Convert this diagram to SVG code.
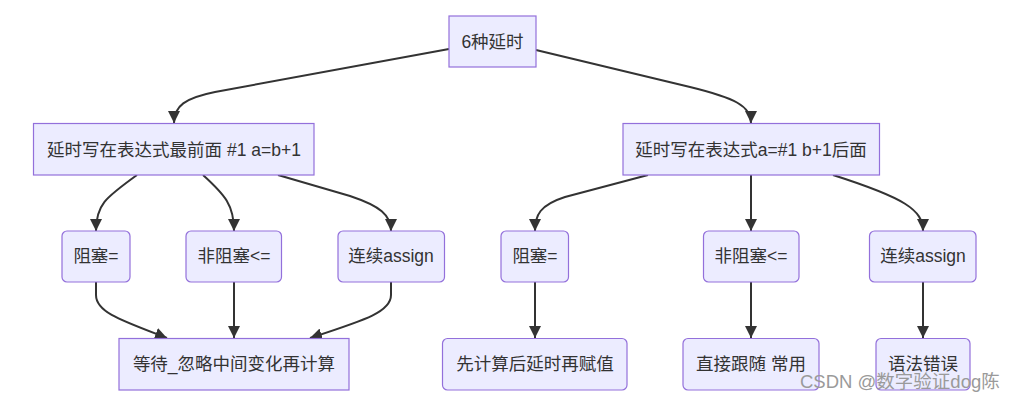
<svg xmlns="http://www.w3.org/2000/svg" width="1019" height="402" viewBox="0 0 1019 402">
<style>
.n rect{fill:#ECECFF;stroke:#9370DB;stroke-width:1.2px}
.n text{font-family:"Liberation Sans","Noto Sans CJK SC",sans-serif;font-size:17.5px;fill:#333;text-anchor:middle}
.e path{fill:none;stroke:#333;stroke-width:2px}
.wm{font-family:"Liberation Sans","Noto Sans CJK SC",sans-serif;font-size:18.5px;fill:#9a9a9a}
</style>
<defs>
<marker id="arr" viewBox="0 0 10 10" refX="10" refY="5" markerUnits="userSpaceOnUse" markerWidth="12" markerHeight="12" orient="auto">
<path d="M0,0 L10,5 L0,10 z" fill="#333"/>
</marker>
</defs>
<rect width="1019" height="402" fill="#fff"/>
<g class="e">
<path d="M449,49 L215,92 C185,98 174,106 174,123" marker-end="url(#arr)"/>
<path d="M536,50 L690,87 C735,98 751,106 751,123" marker-end="url(#arr)"/>
<path d="M137,175 C105,198 96,205 96,231" marker-end="url(#arr)"/>
<path d="M203,175 C225,195 234,205 234,231" marker-end="url(#arr)"/>
<path d="M278,175 L350,196 C380,206 391,215 391,231" marker-end="url(#arr)"/>
<path d="M648,175 L565,197 C540,205 535,215 535,231" marker-end="url(#arr)"/>
<path d="M751,175 L751,231" marker-end="url(#arr)"/>
<path d="M833,175 C905,198 923,210 923,231" marker-end="url(#arr)"/>
<path d="M96,282 L96,295 C96,312 120,320 167,338" marker-end="url(#arr)"/>
<path d="M234,282 L234,338" marker-end="url(#arr)"/>
<path d="M391,282 L391,295 C391,312 365,320 310,338" marker-end="url(#arr)"/>
<path d="M535,282 L535,338" marker-end="url(#arr)"/>
<path d="M751,282 L751,338" marker-end="url(#arr)"/>
<path d="M923,282 L923,338" marker-end="url(#arr)"/>
</g>
<g id="n0" class="n"><rect x="449" y="16" width="87" height="51"/><text x="492.5" y="48">6种延时</text></g>
<g id="n1" class="n"><rect x="33.5" y="123.5" width="280.5" height="51.5"/><text x="174" y="156">延时写在表达式最前面 #1 a=b+1</text></g>
<g id="n2" class="n"><rect x="623" y="123.5" width="256.5" height="51.5"/><text x="751" y="156">延时写在表达式a=#1 b+1后面</text></g>
<g id="n3" class="n"><rect x="62" y="231" width="68" height="51" rx="5"/><text x="96" y="262">阻塞=</text></g>
<g id="n4" class="n"><rect x="186" y="231" width="95.5" height="51" rx="5"/><text x="234" y="262">非阻塞&lt;=</text></g>
<g id="n5" class="n"><rect x="338" y="231" width="106.5" height="51" rx="5"/><text x="391" y="262">连续assign</text></g>
<g id="n6" class="n"><rect x="501" y="231" width="67.5" height="51" rx="5"/><text x="535" y="262">阻塞=</text></g>
<g id="n7" class="n"><rect x="703.5" y="231" width="95.5" height="51" rx="5"/><text x="751" y="262">非阻塞&lt;=</text></g>
<g id="n8" class="n"><rect x="869.5" y="231" width="106.5" height="51" rx="5"/><text x="923" y="262">连续assign</text></g>
<g id="n9" class="n"><rect x="119" y="338.5" width="230" height="51.5"/><text x="234" y="370">等待_忽略中间变化再计算</text></g>
<g id="n10" class="n"><rect x="442.5" y="338.5" width="184.5" height="51.5" rx="5"/><text x="535" y="370">先计算后延时再赋值</text></g>
<g id="n11" class="n"><rect x="683" y="338.5" width="136" height="51.5" rx="5"/><text x="751" y="370">直接跟随 常用</text></g>
<g id="n12" class="n"><rect x="876" y="338.5" width="94" height="51.5" rx="5"/><text x="923" y="370">语法错误</text></g>
<text class="wm" x="800" y="388">CSDN @数字验证dog陈</text>
</svg>
